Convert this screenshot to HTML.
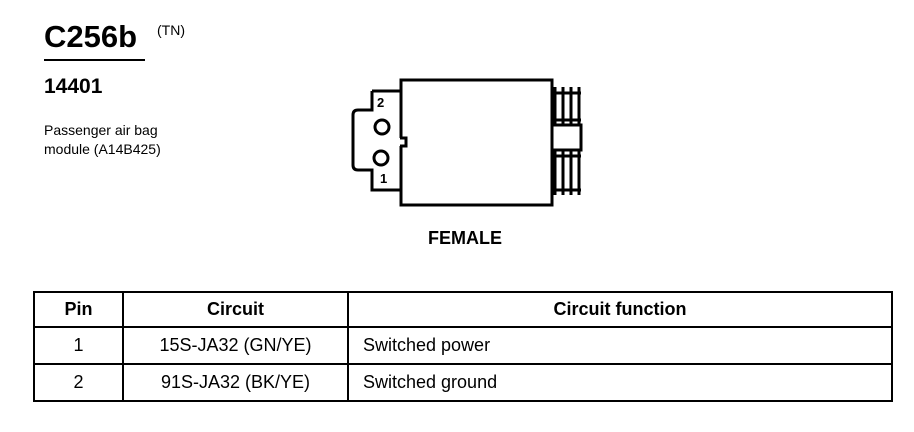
<!DOCTYPE html>
<html><head><style>
body{margin:0;width:914px;height:432px;background:#fff;position:relative;font-family:"Liberation Sans",Arial,sans-serif;color:#000;overflow:hidden}
.a{position:absolute;white-space:nowrap}
table{position:absolute;left:33px;top:291px;border-collapse:collapse;font-size:18px;table-layout:fixed;width:858px}
td,th{border:2px solid #000;padding:0 14px;height:35px}
th{font-weight:bold;text-align:center;height:33px}
</style></head><body>
<div class="a" style="left:44px;top:19px;font-size:31px;font-weight:bold">C256b</div>
<div class="a" style="left:157px;top:22px;font-size:14px">(TN)</div>
<div class="a" style="left:44px;top:59px;width:101px;height:2px;background:#000"></div>
<div class="a" style="left:44px;top:75px;font-size:21px;font-weight:bold">14401</div>
<div class="a" style="left:44px;top:121px;font-size:14px;line-height:19px">Passenger air bag<br>module (A14B425)</div>
<svg class="a" style="left:0;top:0" width="914" height="290">
<g fill="none" stroke="#000" stroke-width="3">
<path d="M401 138 V80 H552 V205 H401 V146"/>
<path d="M372 91 H400 M400 138 H406 V146 H400 M372 91 V110 H358 Q353 110 353 115 V165 Q353 170 358 170 H372 V190 H400"/>
<path d="M552 125 H581 V150 H552"/>
<path d="M555 87 V125 M563 87 V125 M571 87 V125 M579 87 V125 M552 93 H581 M552 120 H581"/>
<path d="M555 150 V195 M563 150 V195 M571 150 V195 M579 150 V195 M552 156 H581 M552 190 H581"/>
<circle cx="382" cy="127" r="7"/><circle cx="381" cy="158" r="7"/>
</g>
<text x="377" y="107" font-size="13" font-family="Liberation Sans" font-weight="bold">2</text>
<text x="380" y="183" font-size="13" font-family="Liberation Sans" font-weight="bold">1</text>
</svg>
<div class="a" style="left:428px;top:228px;font-size:18px;font-weight:bold">FEMALE</div>
<table>
<colgroup><col style="width:89px"><col style="width:225px"><col style="width:544px"></colgroup>
<tr><th>Pin</th><th>Circuit</th><th>Circuit function</th></tr>
<tr><td style="text-align:center">1</td><td style="text-align:center">15S-JA32 (GN/YE)</td><td>Switched power</td></tr>
<tr><td style="text-align:center">2</td><td style="text-align:center">91S-JA32 (BK/YE)</td><td>Switched ground</td></tr>
</table>
</body></html>
